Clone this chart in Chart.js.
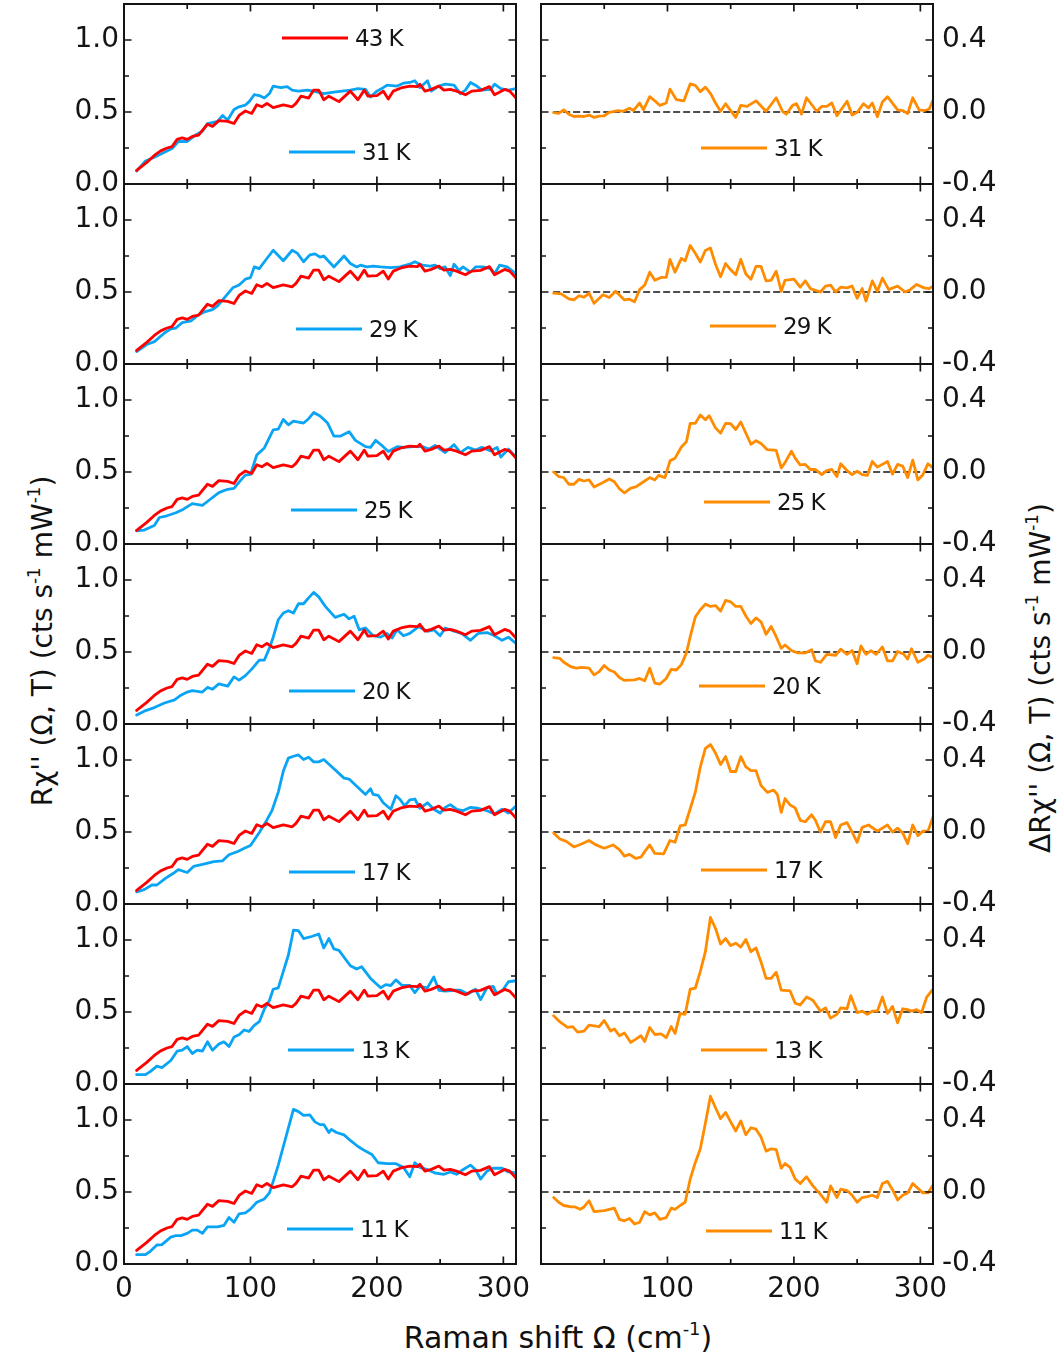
<!DOCTYPE html>
<html>
<head>
<meta charset="utf-8">
<script src="https://cdn.jsdelivr.net/npm/chart.js@4"></script>
<style>
  html, body { margin: 0; padding: 0; background: #fff; }
  body { width: 1061px; height: 1358px; position: relative; overflow: hidden;
         font-family: "DejaVu Sans", sans-serif; color: #111; }
  canvas { position: absolute; }
  .title { position: absolute; white-space: nowrap; line-height: 1; color: #111; }
  .title .sup { font-size: 0.6em; position: relative; top: -0.72em; }
  .ytitle { font-size: 28px; transform: translate(-50%, -50%) rotate(-90deg); }
  .xtitle { font-size: 30px; transform: translateX(-50%); }
</style>
</head>
<body>
<div class="title ytitle" style="left:43px; top:641px;">Rχ'' (Ω, T) (cts s<span class="sup">-1</span> mW<span class="sup">-1</span>)</div>
<div class="title ytitle" style="left:1041px; top:678px;">ΔRχ'' (Ω, T) (cts s<span class="sup">-1</span> mW<span class="sup">-1</span>)</div>
<div class="title xtitle" style="left:558px; top:1323px;">Raman shift Ω (cm<span class="sup">-1</span>)</div>

<script>
// ---------- axis ticks ----------
const shiftMajor = [0, 100, 200, 300];
const shiftMinor = [50, 150, 250];
const shiftLabelsRight = [100, 200, 300];
const chiMajor = [0, 0.5, 1.0];
const chiMinor = [0.25, 0.75];
const deltaMajor = [-0.4, 0, 0.4];
const deltaMinor = [-0.2, 0.2];

// ---------- spectra: [Raman shift (cm-1), R chi''] ----------
const chi43K = [[10,0.094],[18,0.15],[24,0.198],[29,0.23],[34,0.25],[38,0.26],[42,0.31],[46,0.32],[50,0.31],[54,0.33],[59,0.34],[66,0.415],[70,0.40],[75,0.44],[82,0.435],[87,0.42],[91,0.476],[96,0.507],[101,0.49],[105,0.55],[109,0.536],[113,0.56],[118,0.53],[126,0.55],[133,0.536],[136,0.56],[140,0.61],[146,0.597],[150,0.652],[154,0.652],[158,0.585],[162,0.61],[170,0.572],[179,0.645],[185,0.585],[190,0.652],[193,0.61],[200,0.614],[205,0.645],[209,0.59],[213,0.645],[220,0.67],[226,0.68],[232,0.676],[234,0.693],[238,0.645],[243,0.657],[249,0.68],[253,0.652],[258,0.657],[263,0.645],[270,0.62],[275,0.645],[282,0.65],[289,0.676],[293,0.62],[301,0.657],[305,0.645],[310,0.597]];

const chi31K = [[10,0.09],[17,0.16],[24,0.186],[32,0.22],[38,0.246],[43,0.295],[50,0.295],[57,0.343],[62,0.367],[66,0.42],[74,0.435],[78,0.476],[82,0.444],[87,0.517],[91,0.536],[96,0.548],[99,0.572],[103,0.62],[107,0.614],[111,0.597],[115,0.628],[118,0.68],[124,0.669],[129,0.676],[133,0.652],[138,0.645],[145,0.652],[150,0.645],[158,0.628],[166,0.638],[179,0.652],[185,0.662],[191,0.657],[195,0.604],[200,0.645],[205,0.669],[208,0.686],[216,0.68],[221,0.70],[226,0.705],[230,0.717],[234,0.669],[240,0.717],[243,0.645],[249,0.68],[254,0.693],[261,0.686],[266,0.628],[270,0.652],[274,0.705],[279,0.68],[283,0.652],[290,0.657],[293,0.693],[298,0.662],[304,0.652],[310,0.662]];

const chi29K = [[10,0.087],[18,0.135],[24,0.155],[32,0.215],[37,0.244],[41,0.25],[46,0.287],[53,0.30],[58,0.336],[63,0.36],[70,0.377],[74,0.403],[79,0.456],[86,0.529],[91,0.548],[96,0.589],[100,0.60],[103,0.674],[107,0.662],[111,0.71],[118,0.79],[126,0.717],[133,0.79],[137,0.77],[142,0.71],[147,0.758],[151,0.765],[155,0.742],[158,0.75],[166,0.674],[174,0.75],[179,0.698],[184,0.674],[187,0.686],[192,0.674],[197,0.679],[203,0.674],[211,0.669],[218,0.674],[226,0.693],[230,0.71],[236,0.686],[242,0.679],[246,0.686],[250,0.662],[254,0.674],[258,0.614],[261,0.693],[265,0.65],[268,0.674],[274,0.638],[278,0.674],[284,0.674],[290,0.662],[293,0.626],[297,0.686],[303,0.674],[310,0.626]];

const chi25K = [[10,0.092],[16,0.097],[24,0.128],[28,0.184],[34,0.196],[41,0.217],[47,0.242],[54,0.28],[62,0.268],[68,0.309],[75,0.357],[82,0.38],[87,0.386],[92,0.44],[96,0.478],[100,0.483],[105,0.618],[111,0.667],[118,0.792],[122,0.797],[126,0.865],[130,0.828],[134,0.853],[142,0.84],[146,0.87],[150,0.913],[155,0.889],[161,0.84],[166,0.749],[171,0.749],[178,0.78],[183,0.72],[191,0.676],[195,0.671],[199,0.72],[204,0.684],[209,0.643],[216,0.676],[221,0.671],[229,0.676],[236,0.676],[241,0.659],[246,0.684],[254,0.635],[261,0.69],[266,0.635],[272,0.671],[278,0.652],[283,0.671],[290,0.647],[295,0.671],[298,0.604],[304,0.659],[310,0.604]];

const chi20K = [[10,0.063],[16,0.089],[24,0.114],[32,0.146],[40,0.168],[45,0.2],[50,0.222],[54,0.232],[62,0.222],[66,0.254],[70,0.241],[75,0.279],[82,0.263],[87,0.327],[91,0.305],[96,0.336],[101,0.381],[107,0.444],[111,0.444],[115,0.527],[118,0.603],[122,0.724],[126,0.771],[130,0.787],[134,0.771],[138,0.835],[142,0.835],[146,0.876],[150,0.914],[154,0.883],[159,0.819],[167,0.74],[174,0.762],[178,0.73],[182,0.749],[186,0.654],[191,0.667],[197,0.613],[203,0.603],[208,0.629],[212,0.597],[216,0.654],[221,0.613],[226,0.629],[233,0.676],[240,0.644],[245,0.654],[250,0.613],[254,0.667],[261,0.644],[267,0.629],[274,0.581],[280,0.629],[287,0.635],[293,0.613],[299,0.581],[304,0.603],[310,0.559]];

const chi17K = [[10,0.084],[16,0.10],[22,0.132],[26,0.132],[33,0.18],[40,0.219],[43,0.239],[50,0.219],[55,0.261],[63,0.277],[71,0.294],[78,0.30],[83,0.342],[90,0.365],[96,0.39],[100,0.406],[107,0.497],[113,0.584],[117,0.648],[122,0.777],[126,0.923],[130,1.013],[134,1.026],[138,1.035],[142,1.003],[146,1.019],[150,0.987],[154,0.987],[158,1.003],[166,0.939],[174,0.874],[178,0.868],[183,0.826],[191,0.761],[195,0.80],[197,0.761],[201,0.755],[205,0.703],[211,0.658],[215,0.752],[218,0.729],[222,0.681],[226,0.723],[230,0.729],[234,0.665],[240,0.703],[245,0.658],[250,0.632],[254,0.671],[258,0.69],[263,0.658],[268,0.648],[274,0.671],[280,0.665],[287,0.648],[293,0.626],[299,0.658],[304,0.632],[310,0.681]];

const chi13K = [[10,0.065],[17,0.065],[21,0.088],[26,0.124],[30,0.114],[37,0.163],[42,0.228],[46,0.235],[50,0.26],[54,0.212],[58,0.235],[62,0.228],[66,0.293],[70,0.235],[75,0.277],[79,0.293],[83,0.26],[87,0.326],[91,0.342],[95,0.375],[99,0.365],[103,0.407],[107,0.433],[111,0.521],[115,0.58],[118,0.658],[122,0.668],[126,0.782],[130,0.896],[134,1.068],[138,1.065],[142,1.01],[149,1.026],[154,1.042],[158,0.945],[162,1.01],[166,0.938],[170,0.928],[179,0.821],[184,0.798],[188,0.814],[195,0.733],[203,0.668],[207,0.69],[211,0.684],[215,0.723],[220,0.684],[226,0.684],[230,0.635],[234,0.678],[240,0.668],[245,0.743],[249,0.651],[254,0.645],[261,0.651],[266,0.651],[272,0.625],[278,0.658],[282,0.586],[287,0.668],[292,0.678],[295,0.625],[300,0.658],[304,0.71],[310,0.717]];

const chi11K = [[10,0.065],[17,0.065],[21,0.09],[26,0.132],[30,0.135],[37,0.187],[41,0.197],[45,0.197],[50,0.213],[54,0.235],[58,0.235],[62,0.213],[66,0.258],[74,0.258],[79,0.268],[83,0.323],[87,0.29],[91,0.348],[96,0.355],[100,0.381],[105,0.429],[111,0.452],[115,0.494],[118,0.574],[122,0.687],[126,0.816],[130,0.945],[134,1.074],[138,1.058],[142,1.032],[147,1.035],[151,0.987],[155,0.968],[158,0.968],[162,0.913],[164,0.935],[168,0.913],[174,0.897],[179,0.858],[185,0.816],[191,0.784],[196,0.761],[201,0.703],[208,0.697],[215,0.697],[221,0.671],[226,0.606],[230,0.703],[234,0.671],[240,0.655],[246,0.632],[253,0.623],[258,0.639],[263,0.623],[268,0.655],[274,0.687],[278,0.655],[282,0.59],[287,0.645],[292,0.665],[299,0.665],[304,0.639],[310,0.632]];

// ---------- differences to 43 K: [Raman shift (cm-1), delta R chi''] ----------
const dChi31K = [[10,-0.004],[14,-0.008],[18,0.012],[22,-0.012],[26,-0.025],[30,-0.023],[34,-0.025],[38,-0.017],[42,-0.03],[46,-0.023],[50,-0.021],[54,-0.002],[61,0.008],[65,0.004],[70,0.021],[73,0.008],[78,0.05],[81,0.012],[86,0.085],[91,0.056],[94,0.037],[99,0.05],[102,0.127],[107,0.069],[113,0.062],[118,0.156],[122,0.148],[126,0.113],[130,0.138],[134,0.104],[138,0.05],[142,0.004],[146,0.046],[150,0.008],[154,-0.03],[158,0.037],[163,0.031],[170,0.062],[178,0.004],[186,0.079],[191,0.004],[194,-0.012],[199,0.037],[202,0.046],[206,-0.012],[210,0.079],[218,0.004],[222,0.031],[226,0.031],[230,0.05],[234,-0.021],[242,0.06],[246,-0.017],[250,-0.002],[255,0.046],[259,0.023],[262,0.05],[266,-0.027],[270,0.056],[274,0.085],[282,0.012],[286,0.008],[290,-0.008],[294,0.079],[299,0.012],[304,0.008],[307,0.017],[310,0.065]];

const dChi29K = [[10,-0.006],[16,-0.01],[22,-0.038],[26,-0.044],[30,-0.021],[34,-0.029],[38,-0.006],[42,-0.063],[49,-0.015],[54,-0.031],[59,0.004],[66,-0.044],[70,-0.04],[74,-0.054],[78,0.013],[82,0.038],[86,0.11],[90,0.065],[95,0.081],[99,0.081],[102,0.181],[106,0.11],[111,0.187],[114,0.173],[118,0.258],[122,0.215],[126,0.167],[130,0.231],[134,0.244],[138,0.154],[142,0.085],[146,0.158],[150,0.123],[154,0.096],[158,0.181],[162,0.1],[166,0.071],[170,0.142],[174,0.142],[178,0.062],[182,0.065],[186,0.115],[190,0.004],[193,0.065],[200,0.071],[205,0.027],[209,0.062],[213,0.019],[221,0.0],[225,0.033],[229,0.038],[233,0.0],[237,0.027],[242,0.023],[246,0.033],[250,-0.035],[254,0.019],[257,-0.05],[262,0.062],[266,0.004],[270,0.077],[275,0.013],[282,0.033],[288,0.0],[292,0.013],[297,0.042],[303,0.023],[307,0.019],[310,0.033]];

const dChi25K = [[10,0.0],[14,-0.025],[18,-0.031],[22,-0.068],[26,-0.068],[30,-0.041],[34,-0.05],[38,-0.044],[42,-0.083],[49,-0.058],[54,-0.039],[58,-0.054],[62,-0.093],[66,-0.116],[71,-0.089],[75,-0.083],[79,-0.064],[86,-0.031],[90,-0.044],[93,-0.019],[98,-0.031],[102,0.062],[106,0.077],[111,0.139],[115,0.168],[118,0.27],[122,0.27],[126,0.317],[130,0.29],[133,0.313],[138,0.245],[142,0.216],[146,0.27],[150,0.268],[154,0.236],[158,0.278],[166,0.154],[170,0.174],[174,0.158],[179,0.124],[186,0.12],[190,0.023],[193,0.052],[198,0.116],[201,0.077],[205,0.039],[209,0.042],[213,0.014],[217,0.014],[222,-0.015],[226,0.008],[230,0.014],[234,-0.025],[237,0.046],[242,0.008],[246,-0.015],[250,0.004],[254,-0.015],[258,-0.019],[262,0.058],[266,0.027],[274,0.058],[278,-0.012],[282,0.042],[286,0.033],[290,-0.031],[294,0.066],[298,-0.044],[302,-0.015],[306,0.046],[310,0.023]];

const dChi20K = [[10,-0.031],[15,-0.036],[18,-0.057],[24,-0.083],[28,-0.09],[32,-0.085],[38,-0.09],[42,-0.127],[46,-0.109],[50,-0.075],[54,-0.1],[58,-0.111],[62,-0.142],[66,-0.158],[74,-0.155],[78,-0.147],[82,-0.16],[86,-0.09],[90,-0.173],[94,-0.178],[99,-0.147],[103,-0.096],[107,-0.1],[111,-0.07],[115,-0.005],[118,0.085],[122,0.194],[126,0.235],[130,0.266],[134,0.253],[138,0.258],[142,0.227],[146,0.287],[150,0.279],[154,0.253],[158,0.253],[162,0.2],[166,0.158],[170,0.189],[174,0.168],[178,0.098],[182,0.142],[186,0.085],[190,0.021],[193,0.039],[198,0.008],[203,-0.005],[209,-0.005],[214,0.013],[217,-0.049],[221,-0.057],[226,-0.013],[233,-0.018],[237,0.016],[242,-0.013],[246,0.008],[250,-0.065],[253,0.034],[257,-0.013],[261,0.008],[265,-0.013],[270,0.028],[274,-0.049],[278,-0.049],[282,0.003],[287,-0.013],[290,-0.039],[293,0.018],[298,-0.057],[303,-0.039],[306,-0.018],[310,-0.031]];

const dChi17K = [[10,-0.005],[15,-0.039],[20,-0.052],[26,-0.083],[32,-0.067],[38,-0.047],[43,-0.07],[50,-0.09],[57,-0.072],[62,-0.098],[66,-0.134],[70,-0.124],[75,-0.147],[79,-0.14],[82,-0.109],[86,-0.072],[90,-0.119],[97,-0.121],[102,-0.047],[106,-0.057],[110,0.034],[114,0.039],[118,0.129],[122,0.22],[126,0.362],[130,0.465],[134,0.486],[138,0.439],[142,0.375],[146,0.419],[150,0.336],[154,0.336],[158,0.419],[162,0.362],[166,0.341],[170,0.341],[174,0.258],[179,0.22],[184,0.233],[187,0.207],[190,0.109],[193,0.186],[197,0.15],[201,0.134],[205,0.065],[209,0.057],[214,0.096],[217,0.065],[221,0.0],[225,0.057],[229,0.057],[233,-0.031],[237,0.039],[242,0.052],[246,0.0],[250,-0.057],[254,0.026],[259,0.039],[266,0.005],[274,0.039],[278,0.0],[282,0.021],[286,-0.005],[290,-0.065],[294,0.039],[298,-0.021],[302,0.005],[306,0.005],[310,0.083]];

const dChi13K = [[10,-0.021],[15,-0.055],[21,-0.086],[25,-0.081],[29,-0.112],[34,-0.106],[38,-0.073],[46,-0.081],[50,-0.047],[55,-0.106],[58,-0.094],[62,-0.132],[66,-0.117],[71,-0.169],[75,-0.151],[79,-0.132],[82,-0.164],[86,-0.086],[90,-0.125],[95,-0.122],[99,-0.143],[103,-0.081],[106,-0.119],[110,-0.008],[114,-0.013],[118,0.127],[122,0.132],[126,0.226],[130,0.335],[134,0.525],[138,0.465],[142,0.377],[146,0.408],[150,0.369],[154,0.382],[158,0.361],[162,0.403],[166,0.335],[170,0.356],[174,0.278],[178,0.187],[182,0.187],[186,0.221],[190,0.122],[197,0.117],[201,0.049],[205,0.039],[210,0.083],[215,0.065],[221,0.005],[225,0.023],[229,-0.034],[234,-0.013],[237,0.023],[242,0.018],[245,0.091],[250,-0.003],[254,0.005],[258,-0.013],[262,0.005],[266,0.005],[270,0.083],[274,-0.008],[278,0.031],[282,-0.06],[286,0.018],[290,0.013],[293,0.005],[297,0.013],[301,-0.003],[305,0.083],[310,0.127]];

const dChi11K = [[10,-0.031],[14,-0.057],[18,-0.075],[24,-0.083],[27,-0.083],[31,-0.096],[34,-0.083],[38,-0.049],[42,-0.109],[50,-0.103],[58,-0.09],[62,-0.152],[66,-0.16],[70,-0.147],[74,-0.178],[78,-0.168],[82,-0.109],[86,-0.127],[90,-0.116],[94,-0.152],[99,-0.142],[103,-0.09],[106,-0.096],[110,-0.075],[114,-0.057],[118,0.072],[122,0.163],[126,0.24],[130,0.382],[134,0.532],[138,0.468],[142,0.408],[146,0.442],[150,0.39],[154,0.339],[158,0.395],[162,0.318],[166,0.357],[170,0.349],[174,0.305],[178,0.227],[182,0.24],[186,0.235],[190,0.132],[193,0.158],[197,0.137],[201,0.072],[205,0.047],[210,0.085],[215,0.034],[221,-0.013],[226,-0.057],[229,0.034],[234,-0.031],[237,0.016],[242,0.008],[246,-0.018],[250,-0.057],[254,-0.031],[258,-0.026],[262,-0.018],[266,-0.031],[270,0.047],[274,0.059],[278,0.013],[282,-0.044],[286,-0.018],[290,-0.005],[294,0.047],[298,0.021],[302,-0.005],[306,-0.005],[310,0.039]];

// zero reference for the difference panels
const zeroLine = [[10, 0], [310, 0]];

const refTemp = '43 K';
const temps = ['31 K', '29 K', '25 K', '20 K', '17 K', '13 K', '11 K'];
const spectra = [chi31K, chi29K, chi25K, chi20K, chi17K, chi13K, chi11K];
const differences = [dChi31K, dChi29K, dChi25K, dChi20K, dChi17K, dChi13K, dChi11K];

// ---------- layout (page pixels) ----------
const PANEL_TOP = [4, 184, 364, 544, 724, 904, 1084];
const PANEL_H = 180;
const PAD = 32;
const XAXIS_H = 60;
const LEFT_FRAME = { x0: 124, x1: 516, canvasX: 0, canvasW: 570 };
const RIGHT_FRAME = { x0: 541, x1: 933, canvasX: 535, canvasW: 526 };
const KEY_LEFT = [[289, 152], [296, 329], [291, 510], [289, 691], [289, 872], [288, 1050], [287, 1229]];
const KEY_RIGHT = [[701, 148], [710, 326], [704, 502], [699, 686], [701, 870], [701, 1050], [706, 1231]];
const KEY_REF = [282, 38];
const KEY_LEN = 66;

const RED = 'rgb(255,0,0)';
const BLUE = 'rgb(10,164,245)';
const ORANGE = 'rgb(255,140,0)';
const INK = '#141414';

Chart.defaults.font.family = '"DejaVu Sans", sans-serif';
Chart.defaults.color = INK;

const toXY = arr => arr.map(([x, y]) => ({ x, y }));

// box with inward ticks on all four sides
const framePlugin = {
  id: 'frame',
  afterDatasetsDraw(chart, _args, o) {
    const { ctx, chartArea: a } = chart;
    const xs = chart.scales.x, ys = chart.scales.y;
    ctx.save();
    ctx.strokeStyle = INK;
    ctx.lineWidth = 1.7;
    ctx.beginPath();
    const seg = (x1, y1, x2, y2) => { ctx.moveTo(x1, y1); ctx.lineTo(x2, y2); };
    const xt = (vals, len) => vals.forEach(v => {
      const p = xs.getPixelForValue(v);
      seg(p, a.bottom, p, a.bottom - len); seg(p, a.top, p, a.top + len);
    });
    const yt = (vals, len) => vals.forEach(v => {
      const p = ys.getPixelForValue(v);
      seg(a.left, p, a.left + len, p); seg(a.right, p, a.right - len, p);
    });
    xt(o.xMajor, 7.5); xt(o.xMinor, 5);
    yt(o.yMajor, 7.5); yt(o.yMinor, 5);
    ctx.stroke();
    ctx.lineWidth = 2;
    ctx.strokeRect(a.left, a.top, a.right - a.left, a.bottom - a.top);
    ctx.restore();
  }
};

// line-sample keys placed inside each panel
const keyPlugin = {
  id: 'keys',
  afterDraw(chart, _args, o) {
    const ctx = chart.ctx;
    ctx.save();
    o.items.forEach(it => {
      const x = it.x - o.offX, y = it.y - o.offY;
      ctx.strokeStyle = it.color;
      ctx.lineWidth = 2.8;
      ctx.beginPath();
      ctx.moveTo(x, y); ctx.lineTo(x + KEY_LEN, y);
      ctx.stroke();
      ctx.fillStyle = INK;
      ctx.font = '23px "DejaVu Sans", sans-serif';
      if ('letterSpacing' in ctx) ctx.letterSpacing = '-1px';
      ctx.textBaseline = 'alphabetic';
      ctx.textAlign = 'left';
      ctx.fillText(it.text, x + KEY_LEN + 7, y + 8.4);
    });
    ctx.restore();
  }
};

function makePanel(isLeft, r) {
  const isBottom = r === PANEL_TOP.length - 1;
  const frame = isLeft ? LEFT_FRAME : RIGHT_FRAME;
  const cTop = PANEL_TOP[r] - PAD;
  const cH = PAD + PANEL_H + (isBottom ? XAXIS_H : PAD);
  const cv = document.createElement('canvas');
  cv.width = frame.canvasW; cv.height = cH;
  cv.style.left = frame.canvasX + 'px';
  cv.style.top = cTop + 'px';
  cv.style.width = frame.canvasW + 'px';
  cv.style.height = cH + 'px';
  document.body.appendChild(cv);

  const datasets = isLeft
    ? [
        { data: toXY(chi43K), borderColor: RED },
        { data: toXY(spectra[r]), borderColor: BLUE }
      ]
    : [
        { data: toXY(differences[r]), borderColor: ORANGE },
        { data: toXY(zeroLine), borderColor: INK, borderWidth: 1.4, borderDash: [6, 4] }
      ];

  const keys = [];
  if (isLeft) {
    if (r === 0) keys.push({ x: KEY_REF[0], y: KEY_REF[1], color: RED, text: refTemp });
    keys.push({ x: KEY_LEFT[r][0], y: KEY_LEFT[r][1], color: BLUE, text: temps[r] });
  } else {
    keys.push({ x: KEY_RIGHT[r][0], y: KEY_RIGHT[r][1], color: ORANGE, text: temps[r] });
  }

  const yMajor = isLeft ? chiMajor : deltaMajor;
  const yMinor = isLeft ? chiMinor : deltaMinor;
  const yAxisW = isLeft ? frame.x0 - frame.canvasX : frame.canvasX + frame.canvasW - frame.x1;

  new Chart(cv, {
    type: 'line',
    data: { datasets },
    options: {
      responsive: false,
      animation: false,
      devicePixelRatio: 1,
      events: [],
      layout: {
        autoPadding: false,
        padding: {
          left: isLeft ? 0 : frame.x0 - frame.canvasX,
          right: isLeft ? frame.canvasX + frame.canvasW - frame.x1 : 0,
          top: PAD,
          bottom: isBottom ? 0 : PAD
        }
      },
      elements: {
        point: { radius: 0 },
        line: { tension: 0, borderWidth: 2.8, borderJoinStyle: 'round', borderCapStyle: 'round' }
      },
      plugins: {
        legend: { display: false },
        tooltip: { enabled: false },
        frame: { xMajor: shiftMajor, xMinor: shiftMinor, yMajor, yMinor },
        keys: { items: keys, offX: frame.canvasX, offY: cTop }
      },
      scales: {
        x: {
          type: 'linear', min: 0, max: 310, position: 'bottom',
          display: isBottom,
          grid: { display: false, drawTicks: false },
          border: { display: false },
          ticks: { font: { size: 28 }, color: INK, padding: 9, maxRotation: 0, autoSkip: false,
                   callback: v => String(v) },
          afterBuildTicks: s => { s.ticks = (isLeft ? shiftMajor : shiftLabelsRight).map(v => ({ value: v })); },
          afterFit: s => { s.height = isBottom ? XAXIS_H : 0; }
        },
        y: {
          type: 'linear',
          min: isLeft ? 0 : -0.4,
          max: isLeft ? 1.25 : 0.6,
          position: isLeft ? 'left' : 'right',
          grid: { display: false, drawTicks: false },
          border: { display: false },
          ticks: { font: { size: 28 }, color: INK, padding: isLeft ? 5 : 9,
                   callback: v => v.toFixed(1) },
          afterBuildTicks: s => { s.ticks = yMajor.map(v => ({ value: v })); },
          afterFit: s => { s.width = yAxisW; }
        }
      }
    },
    plugins: [framePlugin, keyPlugin]
  });
}

for (let r = 0; r < PANEL_TOP.length; r++) {
  makePanel(true, r);
  makePanel(false, r);
}
</script>
</body>
</html>
